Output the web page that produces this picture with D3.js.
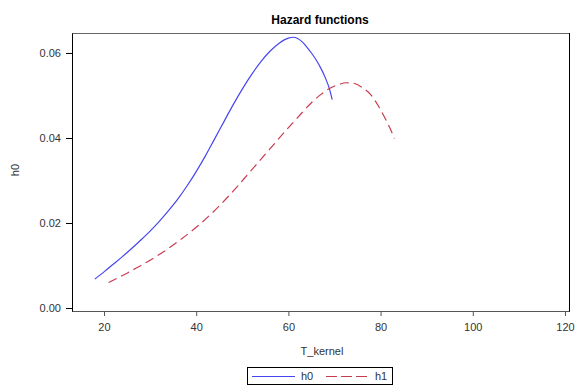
<!DOCTYPE html>
<html>
<head>
<meta charset="utf-8">
<script src="https://cdn.jsdelivr.net/npm/d3@7"></script>
<style>
  body { margin: 0; background: #fff; }
  svg text { font-family: "Liberation Sans", Arial, sans-serif; }
</style>
</head>
<body>
<div id="chart-area"></div>
<script>
// values
const h0T = [18, 20, 22, 24, 26, 28, 30, 32, 34, 36, 38, 40, 42, 44, 46, 48, 50, 52, 54, 56, 58, 60, 61, 62, 63, 64, 65, 66, 67, 68, 69, 69.5];
const h0V = [0.0068, 0.0085, 0.0103, 0.0121, 0.0140, 0.0160, 0.0181, 0.0204, 0.0229, 0.0256, 0.0287, 0.0321, 0.0358, 0.0398, 0.0438, 0.0478, 0.0515, 0.0549, 0.0579, 0.0604, 0.0623, 0.0635, 0.0637, 0.0634, 0.0626, 0.0614, 0.0600, 0.0584, 0.0565, 0.0542, 0.0512, 0.0490];
const h1T = [21, 23, 25, 27, 29, 31, 33, 35, 37, 39, 41, 43, 45, 47, 49, 51, 53, 55, 57, 59, 61, 63, 65, 67, 69, 71, 72.5, 74, 76, 78, 79.5, 81, 82, 83];
const h1V = [0.0060, 0.0071, 0.0082, 0.0094, 0.0106, 0.0119, 0.0133, 0.0148, 0.0164, 0.0181, 0.0199, 0.0219, 0.0240, 0.0263, 0.0287, 0.0312, 0.0337, 0.0362, 0.0387, 0.0412, 0.0436, 0.0460, 0.0483, 0.0502, 0.0517, 0.0526, 0.0530, 0.0529, 0.0519, 0.0500, 0.0476, 0.0446, 0.0424, 0.0399];
const xTicks = [20, 40, 60, 80, 100, 120];
const yTicks = [0, 0.02, 0.04, 0.06];
const seriesNames = ["h0", "h1"];

const width = 583, height = 390;
const plot = {left: 72, right: 569, top: 33, bottom: 311};

const svg = d3.select("#chart-area")
    .append("svg")
    .attr("width", width)
    .attr("height", height);

const xScale = d3.scaleLinear()
    .domain([13.06, 120.87])
    .range([plot.left, plot.right]);

const yScale = d3.scaleLinear()
    .domain([-0.0007, 0.0647])
    .range([plot.bottom, plot.top]);

// frame
svg.append("rect")
    .attr("x", plot.left + 0.5)
    .attr("y", plot.top + 0.5)
    .attr("width", plot.right - plot.left)
    .attr("height", plot.bottom - plot.top)
    .attr("fill", "none")
    .attr("stroke", "#666");

svg.append("line")
    .attr("x1", plot.right + 0.5).attr("x2", plot.right + 0.5)
    .attr("y1", plot.top).attr("y2", plot.bottom + 1)
    .attr("stroke", "#000");

const xAxis = d3.axisBottom(xScale)
    .tickValues(xTicks)
    .tickSize(5)
    .tickPadding(7)
    .tickSizeOuter(0);

const yAxis = d3.axisLeft(yScale)
    .tickValues(yTicks)
    .tickFormat(d3.format(".2f"))
    .tickSize(6)
    .tickPadding(5)
    .tickSizeOuter(0);

svg.append("g")
    .attr("class", "x-axis")
    .attr("transform", `translate(0, ${plot.bottom})`)
    .call(xAxis);

svg.append("g")
    .attr("class", "y-axis")
    .attr("transform", `translate(${plot.left}, 0)`)
    .call(yAxis);

svg.selectAll(".x-axis text, .y-axis text")
    .attr("fill", "#333")
    .style("font-size", "11px");

svg.selectAll(".x-axis path, .x-axis line")
    .attr("stroke", "#555");
svg.selectAll(".y-axis path, .y-axis line")
    .attr("stroke", "#000");

// titles
svg.append("text")
    .attr("x", 320)
    .attr("y", 24)
    .attr("text-anchor", "middle")
    .style("font-size", "12px")
    .style("font-weight", "bold")
    .attr("fill", "#000")
    .text("Hazard functions");

svg.append("text")
    .attr("x", 322)
    .attr("y", 355)
    .attr("text-anchor", "middle")
    .style("font-size", "11px")
    .attr("fill", "#333")
    .text("T_kernel");

svg.append("text")
    .attr("transform", "translate(19, 170) rotate(-90)")
    .attr("text-anchor", "middle")
    .style("font-size", "11px")
    .attr("fill", "#333")
    .text("h0");

// curves
const line = d3.line()
    .x(d => xScale(d[0]))
    .y(d => yScale(d[1]))
    .curve(d3.curveMonotoneX);

const styles = {
    h0: {color: "#4646f0", dash: null},
    h1: {color: "#c83c50", dash: "9,5"}
};

const series = [
    {name: "h0", points: h0T.map((t, i) => [t, h0V[i]])},
    {name: "h1", points: h1T.map((t, i) => [t, h1V[i]])}
];

svg.selectAll("path.curve")
    .data(series)
    .enter()
    .append("path")
    .attr("class", "curve")
    .attr("d", d => line(d.points))
    .attr("fill", "none")
    .attr("stroke", d => styles[d.name].color)
    .attr("stroke-width", 1.2)
    .attr("stroke-dasharray", d => styles[d.name].dash);

// legend
const legendGroup = svg.append("g")
    .attr("transform", "translate(247, 367)");

legendGroup.append("rect")
    .attr("x", 0.5).attr("y", 0.5)
    .attr("width", 145).attr("height", 17)
    .attr("fill", "#fff")
    .attr("stroke", "#000");

const legend = legendGroup.selectAll("g.item")
    .data(seriesNames)
    .enter()
    .append("g")
    .attr("class", "item")
    .attr("transform", (d, i) => `translate(${i * 74}, 0)`);

legend.append("line")
    .attr("x1", 5).attr("x2", 48)
    .attr("y1", 9.5).attr("y2", 9.5)
    .attr("stroke", d => styles[d].color)
    .attr("stroke-width", 1.2)
    .attr("stroke-dasharray", d => styles[d].dash ? "11,4" : null);

legend.append("text")
    .attr("x", 54)
    .attr("y", 13)
    .style("font-size", "11px")
    .attr("fill", "#333")
    .text(d => d);
</script>
</body>
</html>
